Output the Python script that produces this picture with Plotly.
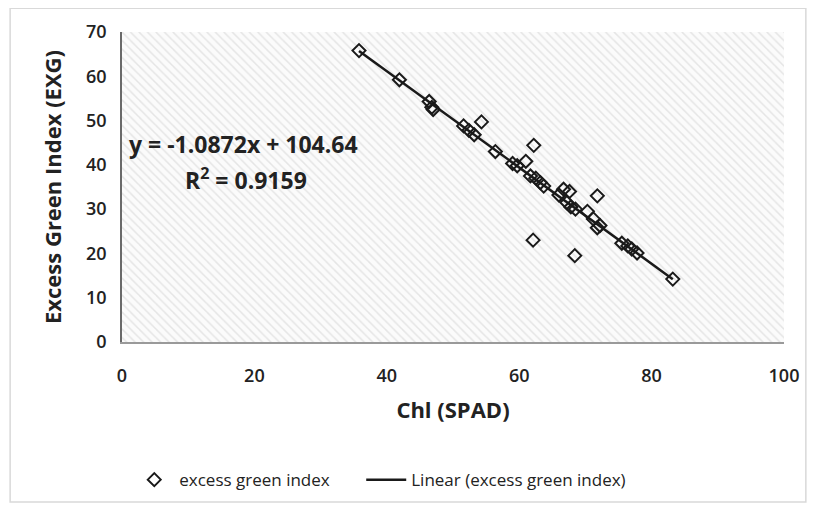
import plotly.graph_objects as go

# Data
chl_spad = [35.8, 41.9, 46.4, 46.8, 47.0, 51.6, 52.4, 53.2, 54.3, 56.4,
            59.0, 59.7, 61.0, 62.2, 61.7, 62.5, 63.2, 63.7, 62.1, 66.0,
            66.7, 67.6, 67.2, 67.8, 68.5, 68.4, 71.8, 70.3, 71.2, 72.2,
            71.8, 75.5, 76.4, 77.0, 77.8, 83.2]
exg = [65.8, 59.2, 54.3, 53.0, 52.5, 48.8, 47.8, 46.8, 49.7, 43.0,
       40.3, 39.8, 40.8, 44.4, 37.5, 37.0, 36.0, 35.2, 23.0, 33.2,
       34.5, 34.0, 31.5, 30.5, 30.0, 19.5, 33.0, 29.5, 27.8, 26.3,
       25.8, 22.3, 21.7, 21.0, 20.1, 14.2]
slope = -1.0872
intercept = 104.64
r2 = 0.9159
x_range = [0, 100]
y_range = [0, 70]
x_ticks = [0, 20, 40, 60, 80, 100]
y_ticks = [0, 10, 20, 30, 40, 50, 60, 70]
series_name = "excess green index"
trend_name = "Linear (excess green index)"

font_fam = "Open Sans"
txt = "#222222"
fig = go.Figure()

# hatched plot background
fig.add_trace(go.Scatter(
    x=[x_range[0], x_range[1], x_range[1], x_range[0], x_range[0]],
    y=[y_range[0], y_range[0], y_range[1], y_range[1], y_range[0]],
    mode="none", fill="toself", fillcolor="rgba(0,0,0,0)",
    fillpattern=dict(shape="\\", fgcolor="#d0d0d0", bgcolor="#fbfbfb", size=6, solidity=0.25),
    showlegend=False, hoverinfo="skip"))

fig.add_trace(go.Scatter(
    x=chl_spad, y=exg, mode="markers", name=series_name + "\u00a0" * 6,
    marker=dict(symbol="diamond-open", size=10, color="#1a1a1a", line=dict(width=2, color="#1a1a1a"))))

xmin, xmax = min(chl_spad), max(chl_spad)
fig.add_trace(go.Scatter(
    x=[xmin, xmax], y=[slope * xmin + intercept, slope * xmax + intercept],
    mode="lines", name=trend_name,
    line=dict(color="#1a1a1a", width=2.5)))

fig.add_annotation(x=0.008, y=44.65, xref="paper", yref="y", xanchor="left",
                   text=f"<b>y = {slope}x + {intercept}</b>", showarrow=False,
                   font=dict(family=font_fam, size=23, color=txt))
fig.add_annotation(x=0.187, y=36.8, xref="paper", yref="y", xanchor="center",
                   text=f"<b>R<sup>2</sup> = {r2}</b>", showarrow=False,
                   font=dict(family=font_fam, size=23, color=txt))

# outer chart border
fig.add_shape(type="rect", xref="paper", yref="paper",
              x0=-0.169, x1=1.033, y0=-0.516, y1=1.077,
              line=dict(color="#d9d9d9", width=1.5), layer="below")

tick_font = dict(size=18, family=font_fam, color=txt, weight=600)
title_font = dict(size=22, family=font_fam, color=txt)

fig.update_layout(
    width=807, height=502,
    margin=dict(l=114, r=31, t=24, b=166),
    paper_bgcolor="white", plot_bgcolor="white",
    font=dict(family=font_fam, color=txt),
    showlegend=True,
    legend=dict(orientation="h", x=0.011, xanchor="left", y=-0.4455, yanchor="middle",
                font=dict(family=font_fam, size=17, color=txt), itemwidth=40,
                traceorder="normal"),
    xaxis=dict(range=x_range, tickvals=x_ticks, showgrid=True, gridcolor="#d8d8d8",
               zeroline=False, showline=True, linecolor="#9a9a9a", linewidth=1.5,
               ticks="", ticklabelstandoff=17, tickfont=tick_font,
               title=dict(text="<b>Chl (SPAD)</b>", font=title_font, standoff=16)),
    yaxis=dict(range=y_range, tickvals=y_ticks, showgrid=True, gridcolor="#d8d8d8",
               zeroline=False, showline=True, linecolor="#6a6a6a", linewidth=1.5,
               ticks="", ticklabelstandoff=10, tickfont=tick_font,
               title=dict(text="<b>Excess Green Index (EXG)</b>", font=title_font, standoff=18)),
)

fig.write_html("out.html")
